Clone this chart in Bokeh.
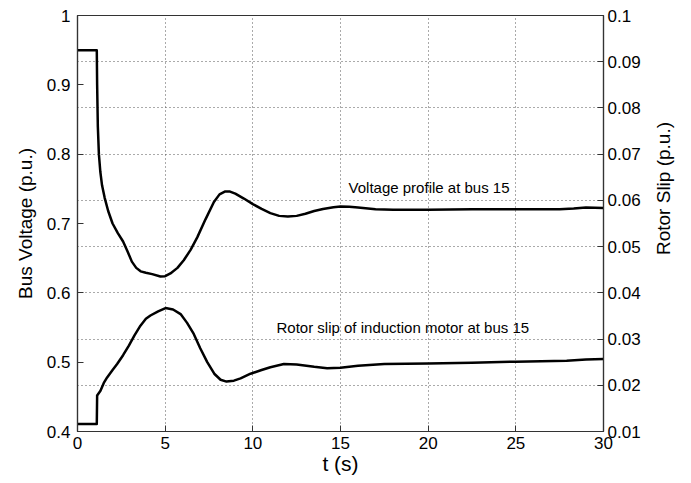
import math
from bokeh.plotting import figure
from bokeh.models import (Range1d, LinearAxis, FixedTicker, CustomJSTickFormatter,
                          Label, ColumnDataSource, Grid, Title)
from bokeh.embed import file_html
from bokeh.resources import INLINE

# ---- data ----
t_voltage = [0, 1.1, 1.12, 1.16, 1.22, 1.3, 1.4, 1.55, 1.75, 2.0, 2.3, 2.6, 2.85, 3.1,
             3.35, 3.6, 3.9, 4.26, 4.73, 5.0, 5.3, 5.7, 6.06, 6.45, 6.83, 7.3, 7.78,
             8.1, 8.4, 8.7, 9.0, 9.49, 10.0, 10.5, 11.0, 11.5, 12.0, 12.5, 13.0, 13.5,
             14.0, 14.6, 15.0, 15.5, 16.0, 17.0, 18.0, 20.0, 22.5, 25.0, 27.5, 28.3,
             29.0, 30.0]
voltage = [0.95, 0.95, 0.90, 0.84, 0.80, 0.775, 0.755, 0.737, 0.718, 0.700, 0.686,
           0.674, 0.660, 0.645, 0.636, 0.631, 0.629, 0.627, 0.6235, 0.624, 0.628,
           0.636, 0.647, 0.662, 0.680, 0.706, 0.731, 0.742, 0.746, 0.746, 0.743,
           0.736, 0.728, 0.721, 0.715, 0.711, 0.710, 0.711, 0.714, 0.718, 0.721,
           0.7235, 0.7245, 0.724, 0.723, 0.7205, 0.720, 0.720, 0.7205, 0.7205, 0.7205,
           0.7215, 0.723, 0.7225]

t_slip = [0, 1.1, 1.12, 1.31, 1.5, 1.69, 2.0, 2.26, 2.6, 2.93, 3.25, 3.59, 3.9, 4.16,
          4.6, 5.02, 5.45, 5.88, 6.25, 6.63, 7.0, 7.4, 7.8, 8.16, 8.5, 8.92, 9.3, 9.87,
          10.5, 11.0, 11.77, 12.5, 13.5, 14.24, 15.0, 16.0, 17.5, 20.0, 22.5, 25.0,
          27.9, 29.0, 30.0]
slip = [0.0116, 0.0116, 0.0178, 0.0188, 0.0205, 0.0217, 0.0233, 0.0246, 0.0265, 0.0286,
        0.0308, 0.0329, 0.0344, 0.0351, 0.0360, 0.0367, 0.0364, 0.0354, 0.0335, 0.0311,
        0.0280, 0.0250, 0.0225, 0.0212, 0.0208, 0.0210, 0.0215, 0.0225, 0.0233, 0.0239,
        0.0246, 0.0245, 0.0240, 0.0237, 0.0238, 0.0242, 0.0246, 0.0247, 0.0249, 0.0251,
        0.0253, 0.0256, 0.0257]

x_ticks = [0, 5, 10, 15, 20, 25, 30]
v_ticks = [0.4, 0.5, 0.6, 0.7, 0.8, 0.9, 1.0]
s_ticks = [0.01, 0.02, 0.03, 0.04, 0.05, 0.06, 0.07, 0.08, 0.09, 0.1]

FONT = "Liberation Sans"
TICK_SIZE = "17px"
YLABEL_SIZE = "19px"
XLABEL_SIZE = "21px"

p = figure(width=691, height=483, output_backend="svg", toolbar_location=None,
           x_range=Range1d(0, 30), y_range=Range1d(0.4, 1.0),
           min_border_left=77, min_border_right=88, min_border_top=15,
           min_border_bottom=52)
p.background_fill_color = "white"
p.border_fill_color = "white"
p.outline_line_color = "#333333"
p.outline_line_width = 1.2

p.extra_y_ranges = {"slip": Range1d(0.01, 0.1)}

fmt = CustomJSTickFormatter(code="return String(+tick.toFixed(3));")

def style_axis(ax, standoff, label_standoff, label_size):
    ax.major_label_text_font = FONT
    ax.major_label_text_font_size = TICK_SIZE
    ax.major_label_text_color = "black"
    ax.axis_label_text_font = FONT
    ax.axis_label_text_font_size = label_size
    ax.axis_label_text_font_style = "normal"
    ax.axis_label_text_color = "black"
    ax.axis_line_color = "#333333"
    ax.axis_line_width = 1.2
    ax.major_tick_in = 6
    ax.major_tick_out = 0
    ax.major_tick_line_color = "#333333"
    ax.minor_tick_line_color = None
    ax.major_label_standoff = standoff
    ax.axis_label_standoff = label_standoff

# x axis
p.xaxis.ticker = FixedTicker(ticks=x_ticks)
p.xaxis.formatter = fmt
p.xaxis.axis_label = "t (s)"
style_axis(p.xaxis[0], 5, 0, XLABEL_SIZE)

# left axis (its title is a side Title so it can sit a little above centre)
p.yaxis.ticker = FixedTicker(ticks=v_ticks)
p.yaxis.formatter = fmt
style_axis(p.yaxis[0], 7, 12, YLABEL_SIZE)
p.add_layout(Title(text="Bus Voltage (p.u.)", align="center", offset=34,
                   text_font=FONT, text_font_size=YLABEL_SIZE,
                   text_font_style="normal", text_color="black", standoff=15), "left")

# right axis (title reads bottom-to-top, as in the reference)
ax_r = LinearAxis(y_range_name="slip", ticker=FixedTicker(ticks=s_ticks),
                  formatter=fmt)
style_axis(ax_r, 4, 14, YLABEL_SIZE)
p.add_layout(ax_r, "right")
p.add_layout(Label(x=20, y=243, x_units="screen", y_units="screen",
                   text="Rotor Slip (p.u.)", angle=math.pi / 2,
                   text_font=FONT, text_font_size=YLABEL_SIZE,
                   text_align="center", text_baseline="middle",
                   text_color="black"), "right")

# grid: vertical at x ticks, horizontal at right-axis ticks
p.xgrid.ticker = FixedTicker(ticks=x_ticks[1:-1])
p.xgrid.grid_line_color = "#555555"
p.xgrid.grid_line_dash = "1 3"
p.xgrid.grid_line_width = 1
p.ygrid.visible = False
g = Grid(dimension=1, ticker=FixedTicker(ticks=s_ticks[1:-1]), y_range_name="slip",
         grid_line_color="#555555", grid_line_dash="1 3", grid_line_width=1)
p.add_layout(g)

src_v = ColumnDataSource(dict(t=t_voltage, v=voltage))
src_s = ColumnDataSource(dict(t=t_slip, s=slip))
p.line("t", "v", source=src_v, line_color="black", line_width=2.5, line_join="round")
p.line("t", "s", source=src_s, line_color="black", line_width=2.5, line_join="round",
       y_range_name="slip")

p.add_layout(Label(x=15.46, y=0.752, text="Voltage profile at bus 15",
                   text_font=FONT, text_font_size="15px", text_baseline="middle",
                   text_color="black"))
p.add_layout(Label(x=11.35, y=0.0324, y_range_name="slip",
                   text="Rotor slip of induction motor at bus 15",
                   text_font=FONT, text_font_size="15px", text_baseline="middle",
                   text_color="black"))

open("out.html", "w").write(file_html(p, INLINE))
